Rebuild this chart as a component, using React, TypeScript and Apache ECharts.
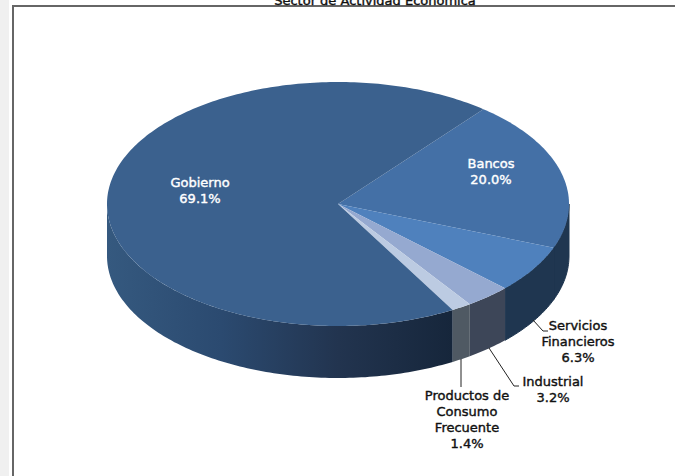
import React, { useEffect, useRef } from "react";
import * as echarts from "echarts";

const categories = ["Bancos", "Servicios\nFinancieros", "Industrial", "Productos de\nConsumo\nFrecuente", "Gobierno"];
const values = [20.0, 6.3, 3.2, 1.4, 69.1];
const topColors = ["#4470a6", "#4f81bd", "#95a9d0", "#bccbe2", "#3b618e"];
const sideStops = [
  ["#1f3650", "#1f3650"],
  ["#1f3650", "#1f3650"],
  ["#3d4658", "#3d4658"],
  ["#4f5963", "#4f5963"],
  ["#35597f", "#2b4a70", "#22344f", "#16263b"],
];
const START = 39;
const CX = 338, CY = 204, RX = 231, RY = 122, DEPTH = 52;
const total = values.reduce((a, b) => a + b, 0);
const startOf = (i: number) => START + (values.slice(0, i).reduce((a, b) => a + b, 0) / total) * 360;
const pt = (deg: number, dy = 0) => {
  const r = (deg * Math.PI) / 180;
  return [CX + RX * Math.sin(r), CY - RY * Math.cos(r) + dy];
};
const arc = (a: number, b: number, dy = 0) => {
  const out: number[][] = [];
  const n = Math.max(2, Math.ceil(Math.abs(b - a)));
  for (let k = 0; k <= n; k++) out.push(pt(a + ((b - a) * k) / n, dy));
  return out;
};

// label centre and leader polyline, in data order
const labelLayout = [
  { x: 491, y: 171, color: "#fff", line: null },
  { x: 578, y: 341, color: "#111", line: [[533, 320], [543, 331], [548, 331]] },
  { x: 553, y: 389, color: "#111", line: [[489, 348], [514, 386], [519, 386]] },
  { x: 467, y: 419, color: "#111", line: [[461, 359], [461, 387]] },
  { x: 200, y: 190, color: "#fff", line: null },
];

export default function App() {
  const ref = useRef<HTMLDivElement>(null);
  useEffect(() => {
    const chart = echarts.init(ref.current!, undefined, { renderer: "svg" });
    const font = '"DejaVu Sans", sans-serif';
    chart.setOption({
      animation: false,
      graphic: [
        { type: "rect", shape: { x: 0, y: 0, width: 9, height: 476 }, style: { fill: "#f0f0f0" } },
        { type: "rect", shape: { x: 12, y: 5, width: 663, height: 2 }, style: { fill: "#666" } },
        { type: "rect", shape: { x: 12, y: 5, width: 2, height: 471 }, style: { fill: "#666" } },
        { type: "text", x: 375, y: 0, style: { text: "Sector de Actividad Económica", font: `13px ${font}`, fill: "#111", stroke: "#111", lineWidth: 0.4, align: "center", verticalAlign: "middle" } },
      ],
      series: [
        {
          type: "custom",
          coordinateSystem: "none",
          z: 1,
          silent: true,
          data: values,
          renderItem: (p: any) => {
            const i = p.dataIndex;
            const a = Math.max(startOf(i), 90);
            const b = Math.min(startOf(i + 1), 270);
            if (b <= a) return { type: "group", children: [] };
            const pts = [...arc(a, b), ...arc(b, a, DEPTH)];
            const stops = sideStops[i];
            const off = stops.length === 4 ? [0, 0.33, 0.67, 1] : [0, 1];
            const fill = new echarts.graphic.LinearGradient(
              0, 0, 1, 0,
              stops.map((color, k) => ({ offset: off[k], color }))
            );
            return {
              type: "polygon",
              shape: { points: pts },
              style: { fill, stroke: i < 2 ? stops[0] : undefined, lineWidth: i < 2 ? 1 : 0 },
            };
          },
        },
        {
          type: "custom",
          coordinateSystem: "none",
          z: 2,
          silent: true,
          data: values,
          renderItem: (p: any) => {
            const i = p.dataIndex;
            return {
              type: "polygon",
              shape: { points: [[CX, CY], ...arc(startOf(i), startOf(i + 1))] },
              style: { fill: topColors[i] },
            };
          },
        },
        {
          type: "custom",
          coordinateSystem: "none",
          z: 3,
          silent: true,
          data: values,
          renderItem: (p: any) => {
            const i = p.dataIndex;
            const l = labelLayout[i];
            const children: any[] = [];
            if (l.line) children.push({ type: "polyline", shape: { points: l.line }, style: { stroke: "#222", lineWidth: 1, fill: "none" } });
            children.push({
              type: "text",
              x: l.x,
              y: l.y,
              style: {
                text: `${categories[i]}\n${values[i].toFixed(1)}%`,
                font: `13px ${font}`,
                lineHeight: 16,
                fill: l.color,
                stroke: l.color,
                lineWidth: 0.4,
                align: "center",
                verticalAlign: "middle",
              },
            });
            return { type: "group", children };
          },
        },
      ],
    });
    return () => chart.dispose();
  }, []);
  return <div ref={ref} style={{ width: 675, height: 476, position: "absolute", left: 0, top: 0 }} />;
}
